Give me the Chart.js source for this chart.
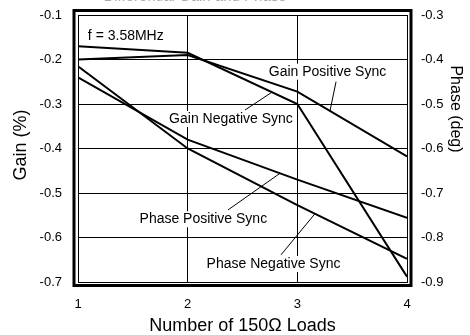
<!DOCTYPE html>
<html>
<head>
<meta charset="utf-8">
<script src="https://cdn.jsdelivr.net/npm/chart.js@4.4.0/dist/chart.umd.min.js"></script>
<style>
  html, body { margin: 0; padding: 0; background: #fff; }
  #wrap { width: 470px; height: 335px; position: relative; }
</style>
</head>
<body>
<div id="wrap"><canvas id="gainPhase" width="470" height="335"></canvas></div>
<script>
// number of 150 ohm loads on the output
const loads = [1, 2, 3, 4];

// differential gain (%), left axis
const gainPositive = [-0.20, -0.19, -0.272, -0.418];
const gainNegative = [-0.17, -0.185, -0.30, -0.688];

// differential phase (deg), right axis
const phasePositive = [-0.44, -0.58, -0.67, -0.756];
const phaseNegative = [-0.415, -0.60, -0.727, -0.848];

const gainTicks = [-0.7, -0.6, -0.5, -0.4, -0.3, -0.2, -0.1];
const phaseTicks = [-0.9, -0.8, -0.7, -0.6, -0.5, -0.4, -0.3];

const FONT = "'Liberation Sans', Arial, sans-serif";

function pts(arr) {
  return loads.map((x, i) => ({ x: x, y: arr[i] }));
}

// value of a series at some x between the load points
function lerp(arr, x) {
  let i = Math.min(Math.floor(x) - 1, loads.length - 2);
  let t = x - loads[i];
  return arr[i] + (arr[i + 1] - arr[i]) * t;
}

// text labels with leader lines, in data units
const notes = [
  { text: "Gain Positive Sync", x: 3.275, y: -0.2274, from: [3.353, -0.2499], to: { series: gainPositive, x: 3.298, axis: "y" } },
  { text: "Gain Negative Sync", x: 2.395, y: -0.3337, from: [2.523, -0.3135], to: { series: gainNegative, x: 2.769, axis: "y" } },
  { text: "Phase Positive Sync", x: 2.143, y: -0.559, from: [2.368, -0.538], to: { series: phasePositive, x: 2.842, axis: "y2" } },
  { text: "Phase Negative Sync", x: 2.783, y: -0.6596, from: [2.851, -0.639], to: { series: phaseNegative, x: 3.161, axis: "y2" } }
];

// no extra room for half tick labels, the plot box is sized by hand
function noPad(s) {
  s.paddingTop = 0;
  s.paddingBottom = 0;
  s.paddingLeft = 0;
  s.paddingRight = 0;
}

const decorations = {
  id: "decorations",
  beforeDatasetsDraw(chart) {
    const ctx = chart.ctx;
    const xs = chart.scales.x, ys = chart.scales.y;
    ctx.save();
    ctx.font = "14px " + FONT;
    ctx.textAlign = "center";
    ctx.textBaseline = "middle";
    notes.forEach(n => {
      const cx = xs.getPixelForValue(n.x), cy = ys.getPixelForValue(n.y);
      const w = ctx.measureText(n.text).width;
      ctx.fillStyle = "#fff";
      ctx.fillRect(cx - w / 2 - 2, cy - 8, w + 4, 16);
      ctx.fillStyle = "#000";
      ctx.fillText(n.text, cx, cy);
      // leader line
      const tgt = chart.scales[n.to.axis];
      ctx.beginPath();
      ctx.strokeStyle = "#000";
      ctx.lineWidth = 1;
      ctx.moveTo(xs.getPixelForValue(n.from[0]), ys.getPixelForValue(n.from[1]));
      ctx.lineTo(xs.getPixelForValue(n.to.x), tgt.getPixelForValue(lerp(n.to.series, n.to.x)));
      ctx.stroke();
    });
    ctx.textAlign = "left";
    ctx.fillText("f = 3.58MHz", xs.getPixelForValue(1.09), ys.getPixelForValue(-0.1465));
    ctx.restore();
  },
  afterDraw(chart) {
    const ctx = chart.ctx;
    const a = chart.chartArea;
    ctx.save();
    // heavy outer frame round the plot
    ctx.strokeStyle = "#000";
    ctx.lineWidth = 3;
    ctx.strokeRect(a.left - 4, a.top - 4.5, a.right - a.left + 8, a.bottom - a.top + 8);

    ctx.fillStyle = "#000";
    ctx.textAlign = "center";
    ctx.textBaseline = "middle";
    ctx.font = "18px " + FONT;
    ctx.fillText("Number of 150\u03A9 Loads", (a.left + a.right) / 2, 326);

    ctx.save();
    ctx.translate(21, 145);
    ctx.rotate(-Math.PI / 2);
    ctx.fillText("Gain (%)", 0, 0);
    ctx.restore();

    ctx.font = "16px " + FONT;
    ctx.save();
    ctx.translate(455, 109);
    ctx.rotate(Math.PI / 2);
    ctx.fillText("Phase (deg)", 0, 0);
    ctx.restore();

    // title, mostly above the top edge
    ctx.fillStyle = "#aaa";
    ctx.font = "15px " + FONT;
    ctx.textBaseline = "alphabetic";
    ctx.fillText("Differential Gain and Phase", 195, 0.5);
    ctx.restore();
  }
};

function series(label, arr, axis) {
  return {
    label: label,
    data: pts(arr),
    yAxisID: axis,
    borderColor: "#000",
    borderWidth: 2,
    pointRadius: 0,
    tension: 0,
    fill: false
  };
}

const ctx = document.getElementById("gainPhase");
const chart = new Chart(ctx, {
  type: "line",
  data: {
    datasets: [
      series("Gain Positive Sync", gainPositive, "y"),
      series("Gain Negative Sync", gainNegative, "y"),
      series("Phase Positive Sync", phasePositive, "y2"),
      series("Phase Negative Sync", phaseNegative, "y2")
    ]
  },
  options: {
    responsive: false,
    animation: false,
    layout: { padding: { top: 15, left: 0, right: 0, bottom: 0 } },
    plugins: {
      legend: { display: false },
      tooltip: { enabled: false }
    },
    scales: {
      x: {
        type: "linear",
        min: 1,
        max: 4,
        afterBuildTicks: s => { s.ticks = loads.map(v => ({ value: v })); },
        afterFit: s => { s.height = 53; noPad(s); },
        grid: { color: "#000", lineWidth: 1, drawTicks: false },
        border: { color: "#000", width: 1 },
        ticks: {
          color: "#000",
          padding: 15,
          font: { family: FONT, size: 13 },
          callback: v => String(v)
        }
      },
      y: {
        position: "left",
        min: -0.7,
        max: -0.1,
        afterBuildTicks: s => { s.ticks = gainTicks.map(v => ({ value: v })); },
        afterFit: s => { s.width = 78; noPad(s); },
        grid: { color: "#000", lineWidth: 1, drawTicks: false },
        border: { color: "#000", width: 1 },
        ticks: {
          color: "#000",
          padding: 16,
          font: { family: FONT, size: 13 },
          callback: v => v.toFixed(1)
        }
      },
      y2: {
        position: "right",
        min: -0.9,
        max: -0.3,
        afterBuildTicks: s => { s.ticks = phaseTicks.map(v => ({ value: v })); },
        afterFit: s => { s.width = 63; noPad(s); },
        grid: { display: false, drawTicks: false },
        border: { color: "#000", width: 1 },
        ticks: {
          color: "#000",
          padding: 14,
          font: { family: FONT, size: 13 },
          callback: v => v.toFixed(1)
        }
      }
    }
  },
  plugins: [decorations]
});
</script>
</body>
</html>
